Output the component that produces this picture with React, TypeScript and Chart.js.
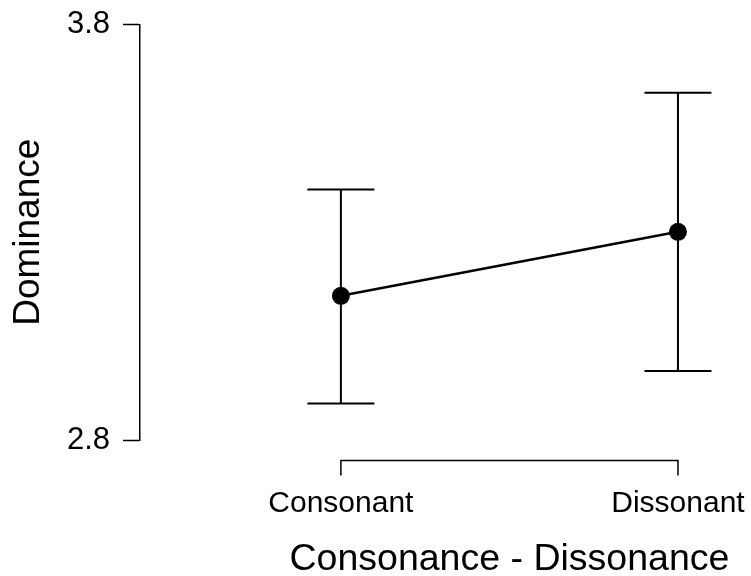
import React, { useEffect, useRef } from "react";
import { Chart, registerables } from "chart.js";

Chart.register(...registerables);

const categories = ["Consonant", "Dissonant"];
const means = [3.147, 3.301];
const lowerCI = [2.888, 2.966];
const upperCI = [3.403, 3.636];
const yTicks = [2.8, 3.8];
const xTitle = "Consonance - Dissonance";
const yTitle = "Dominance";

const FONT = "'Liberation Sans', Arial, sans-serif";

const errorBarPlugin = {
  id: "errorBars",
  beforeDatasetsDraw(chart: any) {
    const { ctx, scales } = chart;
    const xs = scales.x;
    const ys = scales.y;
    ctx.save();
    ctx.strokeStyle = "#000";
    ctx.lineWidth = 2;
    const cap = 33.5;
    for (let i = 0; i < categories.length; i++) {
      const x = xs.getPixelForValue(i);
      const yl = ys.getPixelForValue(lowerCI[i]);
      const yu = ys.getPixelForValue(upperCI[i]);
      ctx.beginPath();
      ctx.moveTo(x, yu);
      ctx.lineTo(x, yl);
      ctx.moveTo(x - cap, yu);
      ctx.lineTo(x + cap, yu);
      ctx.moveTo(x - cap, yl);
      ctx.lineTo(x + cap, yl);
      ctx.stroke();
    }
    ctx.restore();
  },
  afterDraw(chart: any) {
    const { ctx, scales } = chart;
    const xs = scales.x;
    const x0 = xs.getPixelForValue(0);
    const x1 = xs.getPixelForValue(categories.length - 1);
    const axisY = 460.5;
    ctx.save();
    ctx.strokeStyle = "#000";
    ctx.lineWidth = 1.5;
    ctx.beginPath();
    ctx.moveTo(x0, axisY + 15);
    ctx.lineTo(x0, axisY);
    ctx.lineTo(x1, axisY);
    ctx.lineTo(x1, axisY + 15);
    for (let i = 1; i < categories.length - 1; i++) {
      const x = xs.getPixelForValue(i);
      ctx.moveTo(x, axisY);
      ctx.lineTo(x, axisY + 15);
    }
    ctx.stroke();
    ctx.fillStyle = "#000";
    ctx.textAlign = "center";
    ctx.textBaseline = "alphabetic";
    ctx.font = `30px ${FONT}`;
    for (let i = 0; i < categories.length; i++) {
      ctx.fillText(categories[i], xs.getPixelForValue(i), 511.5);
    }
    ctx.font = `37.5px ${FONT}`;
    ctx.fillText(xTitle, (x0 + x1) / 2, 570);
    ctx.restore();
  },
};

export default function App() {
  const canvasRef = useRef<HTMLCanvasElement | null>(null);

  useEffect(() => {
    if (!canvasRef.current) return;
    const chart = new Chart(canvasRef.current, {
      type: "line",
      data: {
        datasets: [
          {
            data: means.map((v, i) => ({ x: i, y: v })),
            borderColor: "#000",
            borderWidth: 2.5,
            pointRadius: 9,
            pointBackgroundColor: "#000",
            pointBorderWidth: 0,
            pointHoverRadius: 9,
            clip: false as any,
          },
        ],
      },
      options: {
        animation: false,
        responsive: true,
        maintainAspectRatio: false,
        events: [],
        layout: { padding: { top: 24.5, bottom: 136, left: 0, right: 6.3 } },
        plugins: { legend: { display: false }, tooltip: { enabled: false } },
        scales: {
          x: {
            type: "linear",
            min: -0.596,
            max: 1.19,
            display: false,
          },
          y: {
            type: "linear",
            min: 2.8,
            max: 3.8,
            afterBuildTicks: (axis: any) => {
              axis.ticks = yTicks.map((v) => ({ value: v }));
            },
            afterFit: (axis: any) => {
              axis.width = 140;
              axis.paddingTop = 0;
              axis.paddingBottom = 0;
            },
            border: { display: true, color: "#000", width: 1.5 },
            grid: {
              drawOnChartArea: false,
              drawTicks: true,
              tickLength: 17,
              tickColor: "#000",
              tickWidth: 1.5,
              color: "#000",
            },
            ticks: {
              color: "#000",
              font: { family: FONT, size: 31 },
              padding: 13,
              callback: (v: any) => Number(v).toFixed(1),
            },
            title: {
              display: true,
              text: yTitle,
              color: "#000",
              font: { family: FONT, size: 37 },
              padding: { top: 7, bottom: 0 },
            },
          },
        },
      },
      plugins: [errorBarPlugin],
    });
    return () => chart.destroy();
  }, []);

  return (
    <div style={{ position: "absolute", left: 0, top: 0, width: 751, height: 576, background: "#fff" }}>
      <canvas ref={canvasRef} />
    </div>
  );
}
